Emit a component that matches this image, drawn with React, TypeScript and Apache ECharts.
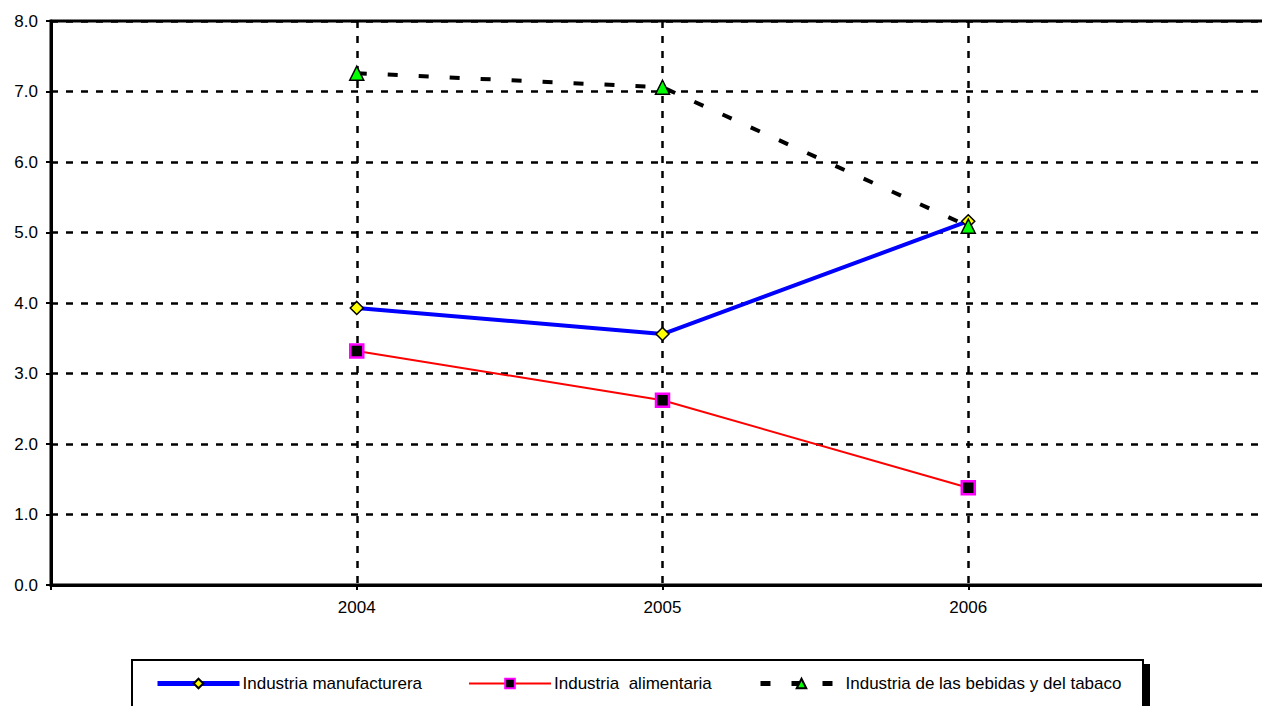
import React, { useEffect, useRef } from "react";
import * as echarts from "echarts";

const years = [2004, 2005, 2006];
const manufacturera = [3.93, 3.56, 5.16];
const alimentaria = [3.32, 2.62, 1.38];
const bebidas = [7.26, 7.06, 5.09];
const seriesNames = [
  "Industria manufacturera",
  "Industria  alimentaria",
  "Industria de las bebidas y del tabaco",
];

const FONT = "Liberation Sans, Arial, sans-serif";

export default function App() {
  const ref = useRef<HTMLDivElement>(null);
  useEffect(() => {
    document.body.style.margin = "0";
    const chart = echarts.init(ref.current!, null, { renderer: "svg" });
    const pair = (vals: number[]) => years.map((y, i) => [y, vals[i]]);
    const legendCommon = {
      top: 675,
      orient: "horizontal",
      padding: 0,
      itemWidth: 82,
      itemHeight: 12,
      textStyle: { color: "#000", fontSize: 17, fontFamily: FONT, padding: [0, 0, 0, -2] },
    };
    chart.setOption({
      animation: false,
      textStyle: { fontFamily: FONT },
      grid: {
        left: 51,
        top: 21,
        right: -12,
        bottom: 121,
        outerBoundsMode: "none",
        containLabel: false,
        show: true,
        borderColor: "#000",
        borderWidth: 3,
        backgroundColor: "transparent",
      },
      xAxis: {
        type: "value",
        min: 2003,
        max: 2007,
        interval: 1,
        axisLine: { show: true, onZero: false, lineStyle: { color: "#000", width: 3 } },
        axisTick: { show: true, length: 5, lineStyle: { color: "#000", width: 2 } },
        axisLabel: {
          color: "#000",
          fontSize: 17,
          fontFamily: FONT,
          margin: 14,
          formatter: (v: number) => (years.includes(v) ? String(v) : ""),
        },
        splitLine: {
          show: true,
          lineStyle: { color: "#000", width: 2.5, type: [7, 8] },
        },
      },
      yAxis: {
        type: "value",
        min: 0,
        max: 8,
        interval: 1,
        axisLine: { show: true, lineStyle: { color: "#000", width: 3 } },
        axisTick: { show: true, length: 5, lineStyle: { color: "#000", width: 2 } },
        axisLabel: {
          color: "#000",
          fontSize: 17,
          fontFamily: FONT,
          margin: 13,
          formatter: (v: number) => v.toFixed(1),
        },
        splitLine: {
          show: true,
          lineStyle: { color: "#000", width: 2.5, type: [7, 8] },
        },
      },
      graphic: [
        {
          type: "rect",
          z: 0,
          shape: { x: 138, y: 664, width: 1012, height: 80 },
          style: { fill: "#000" },
        },
        {
          type: "rect",
          z: 1,
          shape: { x: 132, y: 660, width: 1011, height: 80 },
          style: { fill: "#fff", stroke: "#000", lineWidth: 2 },
        },
      ],
      legend: [
        { ...legendCommon, left: 155, data: [seriesNames[0]], lineStyle: { width: 5 } },
        { ...legendCommon, left: 468, data: [seriesNames[1]], lineStyle: { width: 2 } },
        {
          ...legendCommon,
          left: 758,
          data: [seriesNames[2]],
          lineStyle: { width: 5, type: [10, 21] },
        },
      ],
      series: [
        {
          name: seriesNames[0],
          type: "line",
          data: pair(manufacturera),
          symbol: "diamond",
          symbolSize: 13,
          lineStyle: { color: "#0000FF", width: 4 },
          itemStyle: { color: "#FFFF00", borderColor: "#000", borderWidth: 1.5 },
          z: 3,
        },
        {
          name: seriesNames[1],
          type: "line",
          data: pair(alimentaria),
          symbol: "rect",
          symbolSize: 13,
          lineStyle: { color: "#FF0000", width: 2 },
          itemStyle: { color: "#000", borderColor: "#FF00FF", borderWidth: 2.5 },
          z: 3,
        },
        {
          name: seriesNames[2],
          type: "line",
          data: pair(bebidas),
          symbol: "triangle",
          symbolSize: 14,
          lineStyle: { color: "#000", width: 4, type: [10, 21] },
          itemStyle: { color: "#00FF00", borderColor: "#000", borderWidth: 1.5 },
          z: 4,
        },
      ],
    });
    return () => chart.dispose();
  }, []);
  return <div ref={ref} style={{ width: 1262, height: 706 }} />;
}
